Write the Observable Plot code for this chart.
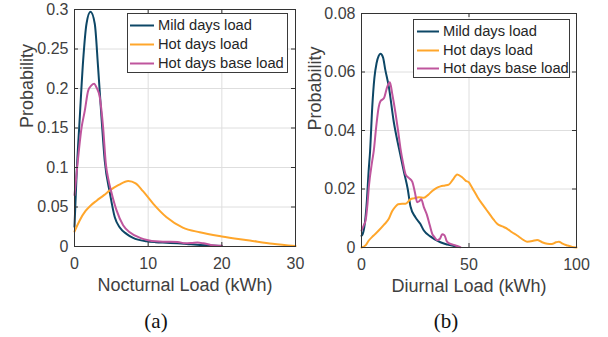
<!DOCTYPE html>
<html>
<head>
<meta charset="utf-8">
<script src="https://cdn.jsdelivr.net/npm/d3@7"></script>
<script src="https://cdn.jsdelivr.net/npm/@observablehq/plot@0.6"></script>
<style>
  html, body { margin: 0; padding: 0; background: white; }
  #wrap { position: relative; width: 608px; height: 337px; overflow: hidden; font-family: "Liberation Sans", Arial, sans-serif; }
  .panel { position: absolute; top: 0; }
  .panel svg { overflow: visible; }
  .legend { position: absolute; background: white; border: 1px solid #3a3a3a; box-sizing: border-box; }
  .legend .row { position: absolute; left: 0; height: 19px; font-size: 14.7px; color: #262626; white-space: nowrap; }
  .legend .row svg { position: absolute; top: 0; }
  .legend .row span { position: absolute; top: 1px; line-height: 17px; }
  .cap { position: absolute; font-family: "Liberation Serif", "Times New Roman", serif; font-size: 21px; color: #111; transform: translateX(-50%); line-height: 21px; }
</style>
</head>
<body>
<div id="wrap"></div>
<script>
// ---------- data ----------
const seriesNames = ["Mild days load", "Hot days load", "Hot days base load"];
const seriesColors = ["#0d4766", "#ffa62b", "#bf559d"];

// (a) Nocturnal load
const nocturnalXTicks = [0, 10, 20, 30];
const nocturnalYTicks = [0, 0.05, 0.1, 0.15, 0.2, 0.25, 0.3];
const nocturnalMild = [[0,0.025],[0.27,0.088],[0.72,0.164],[1.17,0.235],[1.63,0.282],[2.17,0.297],[2.75,0.282],[3.2,0.227],[3.66,0.164],[4.1,0.109],[4.8,0.068],[5.47,0.037],[6.15,0.024],[7.05,0.016],[7.95,0.011],[9.77,0.0067],[11,0.0055],[12.5,0.0048],[14,0.004],[15.5,0.003],[17,0.002],[18.5,0.0012],[20,0.0005]];
const nocturnalHot = [[0,0.019],[0.7,0.033],[1.5,0.045],[2.2,0.052],[3,0.058],[4,0.065],[4.8,0.071],[6,0.078],[7.3,0.083],[8.3,0.080],[9.3,0.070],[10.7,0.054],[12.5,0.037],[14.7,0.024],[17,0.018],[20,0.0127],[23.8,0.0076],[26.9,0.0034],[30,0.0005]];
const nocturnalBase = [[0,0.065],[0.36,0.1],[0.95,0.15],[1.4,0.172],[1.85,0.197],[2.3,0.204],[2.66,0.206],[3.0,0.201],[3.43,0.189],[3.88,0.151],[4.25,0.105],[4.6,0.085],[5.0,0.069],[5.7,0.046],[6.6,0.027],[7.5,0.018],[8.9,0.011],[10,0.008],[11,0.0065],[12,0.006],[13,0.006],[14,0.0058],[15,0.004],[16,0.0045],[16.7,0.005],[17.5,0.004],[18.5,0.002],[20,0.001]];

// (b) Diurnal load
const diurnalXTicks = [0, 50, 100];
const diurnalYTicks = [0, 0.02, 0.04, 0.06, 0.08];
const diurnalMild = [[0,0.004],[0.5,0.0045],[1.5,0.008],[2.5,0.016],[3.3,0.026],[4,0.033],[5,0.048],[6,0.058],[7,0.063],[8,0.0655],[8.8,0.0662],[10,0.065],[11,0.061],[12.7,0.055],[15,0.043],[17.4,0.034],[19.7,0.026],[21.5,0.02],[22.8,0.014],[25,0.0104],[27.4,0.008],[29,0.0058],[32,0.0038],[36.7,0.0018],[40,0.001],[45,0.0002]];
const diurnalHot = [[0,0],[2,0.0008],[3.4,0.0024],[5.5,0.004],[8,0.0058],[10.5,0.0078],[12.7,0.0098],[14.3,0.0125],[15.8,0.014],[17,0.0148],[18.9,0.015],[20.5,0.015],[22.8,0.0165],[24.3,0.0168],[26.7,0.0172],[29,0.017],[31,0.018],[32.9,0.0193],[34.8,0.0203],[36.7,0.0209],[38.8,0.0212],[40.6,0.0215],[42.5,0.0232],[44.5,0.025],[46.8,0.024],[48.5,0.0228],[49.9,0.0223],[51,0.021],[52.2,0.0195],[54,0.0172],[56.1,0.0149],[58,0.013],[60,0.011],[61.5,0.0095],[63.1,0.0081],[65.5,0.0072],[67.8,0.0064],[70,0.0052],[72.4,0.0041],[74.5,0.003],[77,0.002],[79.5,0.0022],[81.7,0.0026],[84,0.0018],[86.4,0.0013],[88.5,0.0012],[90.5,0.0018],[91.8,0.002],[93.5,0.0013],[95.7,0.0007],[98,0.0002],[100,0]];
const diurnalBase = [[0,0.0058],[1,0.0075],[1.9,0.0092],[2.8,0.015],[3.4,0.0206],[5,0.0297],[5.7,0.033],[6.8,0.041],[8,0.048],[8.8,0.050],[10.4,0.051],[12,0.055],[13.2,0.0565],[14.3,0.0525],[15.8,0.046],[17,0.04],[18.1,0.034],[19.3,0.029],[20.5,0.025],[22,0.0238],[23.6,0.0225],[24.8,0.019],[25.9,0.0155],[26.8,0.0158],[27.8,0.0165],[29,0.0138],[30.5,0.011],[31.8,0.0075],[32.9,0.0047],[34,0.0035],[35.2,0.0025],[36.5,0.003],[37.5,0.0045],[38.6,0.0042],[39.6,0.0022],[40.6,0.0015],[42.5,0.001],[44.5,0.0005],[46,0.0001]];

// ---------- drawing ----------
const wrap = document.getElementById("wrap");

function panel(cfg) {
  const plotW = cfg.width - cfg.ml - cfg.mr;
  const plotH = cfg.height - cfg.mt - cfg.mb;
  const axisColor = "#333";
  const lines = cfg.series.map((data, i) =>
    Plot.line(data, {x: d => d[0], y: d => d[1], stroke: seriesColors[i], strokeWidth: 2, curve: "monotone-x"}));
  const svg = Plot.plot({
    width: cfg.width, height: cfg.height,
    marginLeft: cfg.ml, marginRight: cfg.mr, marginTop: cfg.mt, marginBottom: cfg.mb,
    x: {domain: cfg.xDomain},
    y: {domain: cfg.yDomain},
    style: {fontFamily: '"Liberation Sans", Arial, sans-serif', fontSize: "16px", color: "#404040", background: "transparent", overflow: "visible"},
    marks: [
      Plot.gridX(cfg.xTicks, {stroke: "#dedede", strokeOpacity: 1}),
      Plot.gridY(cfg.yTicks, {stroke: "#dedede", strokeOpacity: 1}),
      ...lines,
      Plot.frame({stroke: axisColor}),
      Plot.tickX(cfg.xTicks, {x: d => d, insetTop: plotH - 4, stroke: axisColor}),
      Plot.tickX(cfg.xTicks, {x: d => d, insetBottom: plotH - 4, stroke: axisColor}),
      Plot.tickY(cfg.yTicks, {y: d => d, insetRight: plotW - 4, stroke: axisColor}),
      Plot.tickY(cfg.yTicks, {y: d => d, insetLeft: plotW - 4, stroke: axisColor}),
      Plot.axisX(cfg.xTicks, {tickSize: 0, tickPadding: 11, label: null, tickFormat: d => String(d), fontSize: 16, fill: "#404040"}),
      Plot.axisY(cfg.yTicks, {tickSize: 0, tickPadding: 6, label: null, tickFormat: d => String(d), fontSize: 16, fill: "#404040"}),
      Plot.text([cfg.xLabel], {text: d => d, frameAnchor: "bottom", dy: 44, fontSize: 18, fill: "#404040"}),
      Plot.text(["Probability"], {text: d => d, frameAnchor: "left", rotate: -90, dx: cfg.yLabelDx, fontSize: 18, fill: "#404040"})
    ]
  });
  const div = document.createElement("div");
  div.className = "panel";
  div.style.left = cfg.left + "px";
  div.appendChild(svg);
  wrap.appendChild(div);

  // legend
  const lg = document.createElement("div");
  lg.className = "legend";
  lg.style.left = cfg.legend.left + "px";
  lg.style.top = cfg.legend.top + "px";
  lg.style.width = cfg.legend.width + "px";
  lg.style.height = cfg.legend.height + "px";
  seriesNames.forEach((name, i) => {
    const row = document.createElement("div");
    row.className = "row";
    row.style.top = (cfg.legend.firstRow + i * cfg.legend.step) + "px";
    row.style.width = "100%";
    const ls = document.createElementNS("http://www.w3.org/2000/svg", "svg");
    ls.setAttribute("width", cfg.legend.lineX2 + 2);
    ls.setAttribute("height", 19);
    const ln = document.createElementNS("http://www.w3.org/2000/svg", "line");
    ln.setAttribute("x1", cfg.legend.lineX1); ln.setAttribute("x2", cfg.legend.lineX2);
    ln.setAttribute("y1", 9.5); ln.setAttribute("y2", 9.5);
    ln.setAttribute("stroke", seriesColors[i]); ln.setAttribute("stroke-width", 2);
    ls.appendChild(ln);
    row.appendChild(ls);
    const sp = document.createElement("span");
    sp.style.left = cfg.legend.textX + "px";
    sp.textContent = name;
    row.appendChild(sp);
    lg.appendChild(row);
  });
  wrap.appendChild(lg);

  const cap = document.createElement("div");
  cap.className = "cap";
  cap.style.left = cfg.capX + "px";
  cap.style.top = "311px";
  cap.textContent = cfg.caption;
  wrap.appendChild(cap);
}

panel({
  left: 0, width: 300, height: 300, ml: 74, mr: 5, mt: 9, mb: 54,
  xDomain: [0, 30], yDomain: [0, 0.3], xTicks: nocturnalXTicks, yTicks: nocturnalYTicks,
  series: [nocturnalMild, nocturnalHot, nocturnalBase],
  xLabel: "Nocturnal Load (kWh)", yLabelDx: -47,
  legend: {left: 127, top: 13, width: 161, height: 60, firstRow: 2, step: 19, lineX1: 2, lineX2: 26, textX: 30},
  caption: "(a)", capX: 156
});
panel({
  left: 300, width: 308, height: 300, ml: 61, mr: 32, mt: 13, mb: 53,
  xDomain: [0, 100], yDomain: [0, 0.08], xTicks: diurnalXTicks, yTicks: diurnalYTicks,
  series: [diurnalMild, diurnalHot, diurnalBase],
  xLabel: "Diurnal Load (kWh)", yLabelDx: -46,
  legend: {left: 413, top: 19, width: 157, height: 59, firstRow: 2, step: 18.5, lineX1: 3, lineX2: 25, textX: 29},
  caption: "(b)", capX: 446
});
</script>
</body>
</html>
